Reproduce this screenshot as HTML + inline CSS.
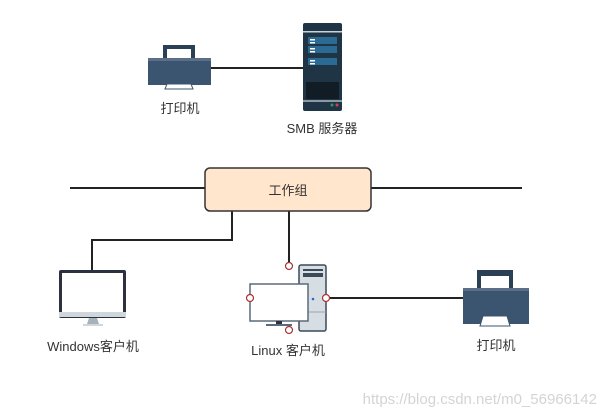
<!DOCTYPE html>
<html><head><meta charset="utf-8"><style>
html,body{margin:0;padding:0;background:#fff;width:606px;height:417px;overflow:hidden}
svg{display:block}
text{font-family:"Liberation Sans","Noto Sans CJK SC",sans-serif;font-size:13px;fill:#333}
</style></head><body>
<svg width="606" height="417" viewBox="0 0 606 417">
<g stroke="#222" stroke-width="2" fill="none">
<line x1="211" y1="68" x2="303" y2="68"/>
<line x1="70" y1="188" x2="205" y2="188"/>
<line x1="371" y1="188" x2="522" y2="188"/>
<polyline points="232,211 232,240 92,240 92,270"/>
<line x1="289" y1="211" x2="289" y2="262"/>
<line x1="330" y1="298" x2="463" y2="298"/>
</g>
<!-- top printer -->
<rect x="163" y="45" width="32" height="14" fill="#2b3f55"/>
<rect x="167" y="49" width="24" height="10" fill="#fff"/>
<rect x="148" y="58" width="63" height="27" fill="#3b5470"/>
<rect x="148" y="58" width="63" height="3" fill="#5b6f88"/>
<polygon points="167,84 191,84 193,89 165,89" fill="#fff" stroke="#3b5470"/>
<!-- server -->
<rect x="303" y="23" width="39" height="88" rx="2" fill="#1f3546"/>
<rect x="303" y="31" width="39" height="1.5" fill="#c8d4dc"/>
<rect x="308" y="37" width="29" height="7" fill="#2a6a93"/>
<rect x="308" y="46" width="29" height="7" fill="#2a6a93"/>
<rect x="308" y="58" width="29" height="7" fill="#2a6a93"/>
<rect x="310" y="39" width="5" height="1.5" fill="#fff"/><rect x="310" y="42" width="5" height="1.5" fill="#fff"/>
<rect x="310" y="48" width="5" height="1.5" fill="#fff"/><rect x="310" y="51" width="5" height="1.5" fill="#fff"/>
<rect x="310" y="60" width="5" height="1.5" fill="#fff"/><rect x="310" y="63" width="5" height="1.5" fill="#fff"/>
<rect x="306" y="82" width="33" height="17" fill="#111c24"/>
<rect x="303" y="100" width="39" height="2" fill="#8a9aa5"/>
<circle cx="332" cy="105" r="1.5" fill="#2a9a5a"/><circle cx="337" cy="105" r="1.5" fill="#d24050"/>
<text x="180" y="113" text-anchor="middle">打印机</text>
<text x="322" y="133" text-anchor="middle">SMB 服务器</text>
<!-- workgroup -->
<rect x="205" y="168" width="166" height="43" rx="5" fill="#ffe6cc" stroke="#333" stroke-width="1.5"/>
<text x="288" y="195" text-anchor="middle">工作组</text>
<!-- windows monitor -->
<rect x="59" y="270" width="67" height="48" rx="2" fill="#2b3140"/>
<rect x="62" y="273" width="61" height="39" fill="#fff"/>
<rect x="59" y="312" width="67" height="5" fill="#cfd6dc"/>
<polygon points="89,318 97,318 99,324 87,324" fill="#a8b2ba"/>
<rect x="83" y="324" width="20" height="2" fill="#cfd6dc"/>
<text x="93" y="351" text-anchor="middle">Windows客户机</text>
<!-- linux -->
<rect x="299" y="265" width="27" height="66" rx="2" fill="#d6dde3" stroke="#3a4a5a" stroke-width="1.5"/>
<rect x="303" y="269" width="20" height="2" fill="#3a4a5a"/>
<rect x="303" y="273" width="20" height="4" fill="#3a4a5a"/>
<circle cx="313" cy="299" r="1.3" fill="#2a6ad0"/>
<line x1="299" y1="312" x2="326" y2="312" stroke="#9aa4ad"/>
<rect x="250" y="284" width="58" height="37" fill="#fff" stroke="#5a6a7a" stroke-width="1.5"/>
<rect x="276" y="321" width="6" height="4" fill="#2b3140"/>
<rect x="266" y="324" width="26" height="2" fill="#5a6a7a"/>
<g fill="#fff" stroke="#a33" stroke-width="1.2">
<circle cx="289" cy="266" r="3.5"/><circle cx="250" cy="298" r="3.5"/>
<circle cx="326" cy="298" r="3.5"/><circle cx="289" cy="330" r="3.5"/>
</g>
<text x="288" y="355" text-anchor="middle">Linux 客户机</text>
<!-- right printer -->
<rect x="477" y="270" width="36" height="18" fill="#2b3f55"/>
<rect x="481" y="276" width="28" height="12" fill="#fff"/>
<rect x="463" y="288" width="66" height="36" fill="#3b5470"/>
<rect x="463" y="288" width="66" height="3" fill="#5b6f88"/>
<polygon points="483,316 507,316 510,326 480,326" fill="#fff" stroke="#3b5470"/>
<text x="496" y="350" text-anchor="middle">打印机</text>
<text x="597" y="404" text-anchor="end" style="font-size:15px;fill:#d4d4d4">https://blog.csdn.net/m0_56966142</text>
</svg>
</body></html>
